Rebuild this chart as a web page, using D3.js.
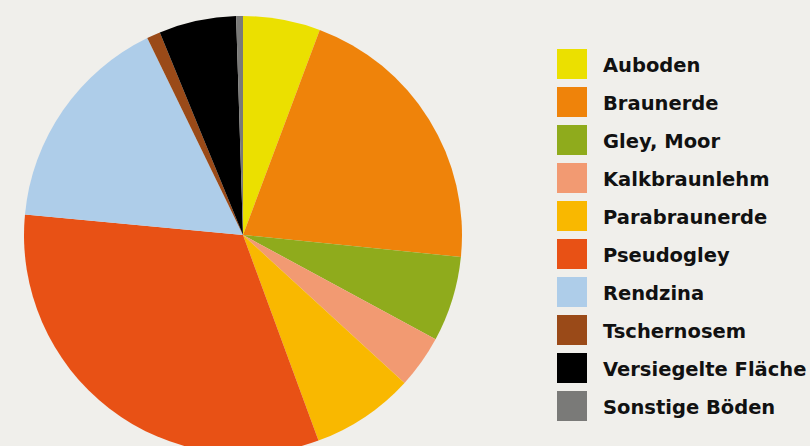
<!DOCTYPE html>
<html>
<head>
<meta charset="utf-8">
<script src="https://cdn.jsdelivr.net/npm/d3@7"></script>
<style>
  html, body { margin: 0; padding: 0; background: #f0efeb; }
  svg { display: block; }
</style>
</head>
<body>
<svg id="chart"></svg>
<script>
const width = 810, height = 446;

// soil types and their share (percent)
const categories = ["Auboden", "Braunerde", "Gley, Moor", "Kalkbraunlehm", "Parabraunerde",
                    "Pseudogley", "Rendzina", "Tschernosem", "Versiegelte Fläche", "Sonstige Böden"];
const shares = [5.7, 20.9, 6.3, 3.9, 7.6, 32.1, 16.3, 1.0, 5.7, 0.5];
const colors = ["#ebe000", "#ef830a", "#8fab1c", "#f29a72", "#f9b800",
                "#e85115", "#aecde9", "#9a4a18", "#000000", "#7a7a78"];

const data = categories.map((c, i) => ({ name: c, value: shares[i] }));

const svg = d3.select("#chart")
    .attr("width", width)
    .attr("height", height);

svg.append("rect")
    .attr("width", width)
    .attr("height", height)
    .attr("fill", "#f0efeb");

const color = d3.scaleOrdinal().domain(categories).range(colors);

const radius = 219;
const pie = d3.pie().value(d => d.value).sort(null);
const arc = d3.arc().innerRadius(0).outerRadius(radius);

const g = svg.append("g")
    .attr("transform", "translate(243,235)");

g.selectAll("path")
    .data(pie(data))
    .enter().append("path")
    .attr("d", arc)
    .attr("fill", d => color(d.data.name));

// legend
const legend = svg.selectAll(".legend")
    .data(categories)
    .enter().append("g")
    .attr("class", "legend")
    .attr("transform", (d, i) => `translate(557,${49 + i * 38})`);

legend.append("rect")
    .attr("width", 30)
    .attr("height", 30)
    .attr("fill", d => color(d));

legend.append("text")
    .attr("x", 46)
    .attr("y", 15)
    .attr("dy", "0.4em")
    .style("font-family", "'DejaVu Sans', sans-serif")
    .style("font-weight", "bold")
    .style("font-size", "19.5px")
    .style("fill", "#111")
    .text(d => d);
</script>
</body>
</html>
